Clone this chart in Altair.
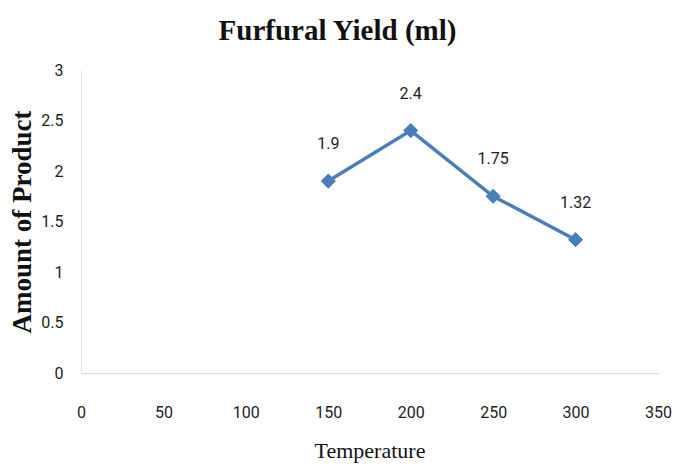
import altair as alt
import pandas as pd

temperature = [150, 200, 250, 300]
amount = [1.9, 2.4, 1.75, 1.32]
labels = ["1.9", "2.4", "1.75", "1.32"]

df = pd.DataFrame({"Temperature": temperature, "Amount": amount, "Label": labels})

NARROW = "Liberation Sans Narrow, Arial Narrow, Roboto, Liberation Sans, sans-serif"
SERIF = "Liberation Serif, Times New Roman, serif"
BLUE = "#4a7ebb"

x = alt.X("Temperature:Q",
          scale=alt.Scale(domain=[0, 350], nice=False, zero=True),
          axis=alt.Axis(values=[0, 50, 100, 150, 200, 250, 300, 350], title="Temperature",
                        grid=False, ticks=False, domainColor="#d9d9d9", domainWidth=1,
                        labelFont=NARROW, labelFontSize=16, labelColor="#222222",
                        labelPadding=31, titleFont=SERIF, titleFontSize=22,
                        titleFontWeight="normal", titleColor="#111111", titlePadding=20,
                        labelFlush=False, format="d"))
y = alt.Y("Amount:Q",
          scale=alt.Scale(domain=[0, 3], nice=False),
          axis=alt.Axis(values=[0, 0.5, 1, 1.5, 2, 2.5, 3], title="Amount  of Product",
                        grid=False, ticks=False, domainColor="#e6e6e6", domainWidth=1,
                        labelFont=NARROW, labelFontSize=16, labelColor="#222222",
                        labelPadding=18, titleFont=SERIF, titleFontSize=27,
                        titleFontWeight="bold", titleColor="#111111", titlePadding=4,
                        labelFlush=False, format="~g"))

line = alt.Chart(df).mark_line(color=BLUE, strokeWidth=3.5).encode(x=x, y=y)
pts = alt.Chart(df).mark_point(shape="diamond", filled=True, size=230, color=BLUE, opacity=1).encode(x=x, y=y)
txt = alt.Chart(df).mark_text(font=NARROW, fontSize=16, color="#222222", dy=-37, dx=0).encode(
    x=x, y=y, text="Label:N")

chart = (line + pts + txt).properties(
    width=577, height=303,
    title=alt.TitleParams("Furfural  Yield  (ml)", font=SERIF, fontSize=29, fontWeight="bold",
                          color="#111111", anchor="middle", offset=16, dx=-32),
    autosize=alt.AutoSizeParams(type="none"),
    padding={"left": 73, "top": 62, "right": 15, "bottom": 92},
).configure_view(stroke=None)

chart.save("out.html", embed_options={"renderer": "svg", "actions": False})
